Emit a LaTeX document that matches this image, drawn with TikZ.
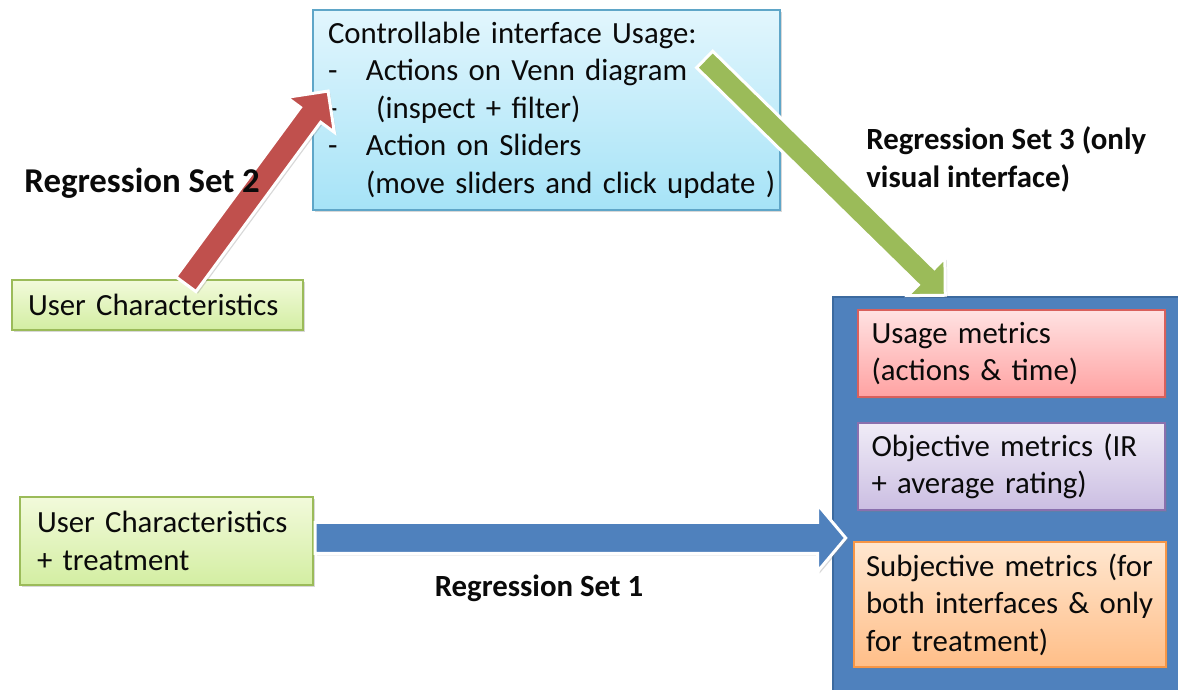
\documentclass[tikz,border=0pt]{standalone}
\usepackage{fontspec}
\setmainfont{Carlito}
\usepackage{tikz}
\usetikzlibrary{calc,shapes.arrows,shadows}
\definecolor{ink}{HTML}{0A0A0A}
\definecolor{skytop}{HTML}{E2F6FD}
\definecolor{skybot}{HTML}{A6E3F7}
\definecolor{skyline}{HTML}{5FA6C8}
\definecolor{limetop}{HTML}{F2FADB}
\definecolor{limebot}{HTML}{D3EEA2}
\definecolor{limeline}{HTML}{9BBB59}
\definecolor{rosetop}{HTML}{FFE2E2}
\definecolor{rosebot}{HTML}{FFA2A2}
\definecolor{roseline}{HTML}{D9605C}
\definecolor{liltop}{HTML}{F0ECF7}
\definecolor{lilbot}{HTML}{CBBEE2}
\definecolor{lilline}{HTML}{8A70AE}
\definecolor{peachtop}{HTML}{FFE7D0}
\definecolor{peachbot}{HTML}{FFBE88}
\definecolor{peachline}{HTML}{F79646}
\definecolor{navy}{HTML}{4F81BD}
\definecolor{navyline}{HTML}{3C6A9F}
\definecolor{brick}{HTML}{C0504D}
\definecolor{grass}{HTML}{9BBB59}

\begin{document}
\begin{tikzpicture}[
  x=0.5pt,
  y=0.5pt,
  txt/.style={font=\fontsize{15.4}{18.8}\selectfont, text=ink},
  shade/.style={drop shadow={shadow xshift=1pt, shadow yshift=-1pt, opacity=0.3}},
  box/.style={txt, shade, draw=#1line, line width=0.6pt, top color=#1top, bottom color=#1bot, align=left, inner ysep=0pt},
  panel/.style={draw=navyline, line width=0.8pt, fill=navy, minimum width=176pt, minimum height=199pt},
  fat/.style={single arrow, single arrow tip angle=90, draw=white, line width=1.5pt, fill=#1, inner xsep=0pt, anchor=tail, shade},
  tag/.style={font=\bfseries\fontsize{15.4}{19}\selectfont, text=ink, align=left, inner sep=0pt}
]
  \path[use as bounding box, fill=white] (0,0) rectangle (1178,690);

  \node[box=sky, text width=218.5pt, inner xsep=7.5pt, minimum height=100pt] (ctrl) at (546.5,580)
    {Controllable interface Usage:\\
     \makebox[19pt][l]{-}Actions on Venn diagram\\
     \makebox[19pt][l]{-}\ (inspect + filter)\\
     \makebox[19pt][l]{-}Action on Sliders\\
     \hspace*{19pt}\mbox{(move sliders and click update )}};
  \node[box=lime, text width=129.5pt, inner xsep=8pt, minimum height=25pt] (user) at (157.5,385) {User Characteristics};
  \node[box=lime, text width=129.5pt, inner xsep=8.5pt, minimum height=44pt] (usertreat) at (166.5,149)
    {User Characteristics\\+ treatment};

  \node[panel] (metrics) at (1009,194) {};
  \node[box=rose, text width=140pt, inner xsep=6.75pt, minimum height=43.5pt] (usage) at (1011.5,336.5)
    {Usage metrics\\(actions \& time)};
  \node[box=lil, text width=140pt, inner xsep=6.75pt, minimum height=43.5pt] (objective) at (1011.5,223.5)
    {Objective metrics (IR\\+ average rating)};
  \node[box=peach, text width=144pt, inner xsep=6pt, minimum height=62.5pt] (subjective) at (1010,85.5)
    {\mbox{Subjective metrics (for}\\\mbox{both interfaces \& only}\\for treatment)};

  % fat arrows
  \coordinate (rtail) at ([shift={(27.5,-6)}]user.north);
  \coordinate (rtip) at ([shift={(15,18)}]ctrl.west);
  \coordinate (gtail) at ([shift={(-77,-49)}]ctrl.north east);
  \coordinate (gtip) at ([shift={(112,2)}]metrics.north west);
  \coordinate (btail) at ([shift={(0,3)}]usertreat.east);
  \coordinate (btip) at ($(btail -| metrics.west)+(12,0)$);

  \path let \p1=($(rtip)-(rtail)$), \n1={veclen(\x1,\y1)}, \n2={atan2(\y1,\x1)} in
    node[fat=brick, minimum height=\n1, inner ysep=5.5pt, single arrow head extend=8.5pt, rotate=\n2] (set2arrow) at (rtail) {};
  \path let \p1=($(gtip)-(gtail)$), \n1={veclen(\x1,\y1)}, \n2={atan2(\y1,\x1)} in
    node[fat=grass, minimum height=\n1, inner ysep=5pt, single arrow head extend=7.5pt, rotate=\n2] (set3arrow) at (gtail) {};
  \path let \p1=($(btip)-(btail)$), \n1={veclen(\x1,\y1)} in
    node[fat=navy, single arrow tip angle=100, minimum height=\n1, inner ysep=7pt, single arrow head extend=9pt] (set1arrow) at (btail) {};

  \node[tag, font=\bfseries\fontsize{17.4}{20}\selectfont, anchor=west] (set2) at (24,507) {Regression Set 2};
  \node[tag, anchor=west] (set3) at (866,531) {Regression Set 3 (only\\visual interface)};
  \node[tag] (set1) at (539,102) {Regression Set 1};
\end{tikzpicture}
\end{document}
